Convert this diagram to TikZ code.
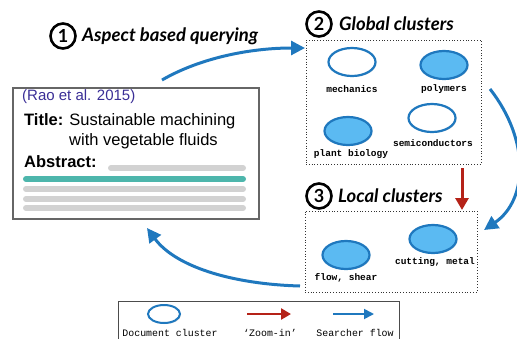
\documentclass[tikz,border=0pt]{standalone}
\usepackage{fontspec}
\setmainfont{Liberation Sans}
\setmonofont{Liberation Mono}
\newfontfamily\headfont{Lato}
\usetikzlibrary{arrows.meta,positioning,shapes.geometric,shadows}
\definecolor{flowblue}{HTML}{1F78BE}
\definecolor{clusterfill}{HTML}{5BBAF2}
\definecolor{zoomred}{HTML}{B52218}
\definecolor{refblue}{HTML}{3A2E96}
\definecolor{barteal}{HTML}{4DB6AC}
\definecolor{bargray}{HTML}{D2D2D2}

\begin{document}
\begin{tikzpicture}[x=1pt,y=-1pt]
        \tikzset{
            num/.style={circle, draw=black, line width=2.6pt, inner sep=0pt,
                minimum size=25pt, font=\headfont\bfseries\fontsize{18}{18}\selectfont},
            head/.style={anchor=west, inner sep=0pt,
                font=\headfont\bfseries\itshape\fontsize{18.5}{18.5}\selectfont},
            clus/.style={ellipse, draw=flowblue, line width=2.2pt, fill=white,
                minimum width=47pt, minimum height=28pt, inner sep=0pt,
                drop shadow={opacity=0.25, shadow xshift=1pt, shadow yshift=-1pt}},
            full/.style={clus, fill=clusterfill},
            lbl/.style={font=\ttfamily\bfseries\fontsize{9.5}{10}\selectfont, inner sep=1pt},
            legtext/.style={font=\ttfamily\fontsize{9.9}{10}\selectfont, inner sep=1pt},
            group/.style={draw=black!80, dotted, line width=0.8pt, inner sep=0pt},
            flow/.style={draw=flowblue, line width=3pt, -{Triangle[length=14pt,width=14pt]}},
            zoom/.style={draw=zoomred, line width=3pt, -{Triangle[length=12pt,width=13pt]}},
            bar/.style={line width=6pt, line cap=round},
            doctext/.style={anchor=west, inner sep=0pt, font=\fontsize{16.5}{17}\selectfont},
        }
        \useasboundingbox (0,0) rectangle (517,338);

        % step headings
        \node[num] (C1) at (63, 36) {1};
        \node[head] (H1) at (82, 36) {Aspect based querying};
        \node[num] (C2) at (319, 24) {2};
        \node[head] (H2) at (339, 24) {Global clusters};
        \node[num] (C3) at (319, 196) {3};
        \node[head] (H3) at (338, 196) {Local clusters};

        % document
        \node[draw=black!60, line width=2pt, minimum width=246pt,
            minimum height=131pt, inner sep=0pt] (doc) at (135.5, 153.5) {};
        \node[doctext, text=refblue, font=\fontsize{15}{15}\selectfont] (cite)
            at (22, 97) {(Rao et al. 2015)};
        \node[doctext] (title) at (24, 121) {\textbf{Title:} Sustainable machining};
        \node[doctext] (title2) at (69, 141) {with vegetable fluids};
        \node[doctext] (abs) at (24, 162) {\textbf{Abstract:}};
        \begin{scope}[bar]
            \draw[bargray] (111, 168) -- (243, 168);
            \draw[barteal] (26, 179) -- (243, 179);
            \draw[bargray] (26, 189) -- (243, 189);
            \draw[bargray] (26, 199) -- (243, 199);
            \draw[bargray] (26, 208) -- (243, 208);
        \end{scope}

        % global clusters
        \node[group, minimum width=175pt, minimum height=124pt] (glob) at (393.5, 102) {};
        \node[clus] (E1) at (352, 62) {};
        \node[lbl] (L1) at (352, 89) {mechanics};
        \node[full] (E2) at (444, 65) {};
        \node[lbl] (L2) at (444, 89) {polymers};
        \node[full] (E3) at (348, 131) {};
        \node[lbl] (L3) at (351, 154) {plant biology};
        \node[clus] (E4) at (432, 118) {};
        \node[lbl] (L4) at (433, 143) {semiconductors};

        % local clusters
        \node[group, minimum width=172pt, minimum height=81pt] (loc) at (391, 251.5) {};
        \node[full] (E5) at (346, 255) {};
        \node[lbl] (L5) at (346, 278) {flow, shear};
        \node[full] (E6) at (433, 239) {};
        \node[lbl] (L6) at (435, 262) {cutting, metal};

        % legend
        \node[draw=black!70, line width=0.8pt, minimum width=281pt,
            minimum height=49pt, inner sep=0pt] (leg) at (258.5, 325.5) {};
        \node[clus, minimum width=32pt, minimum height=18pt, line width=2pt] (LE) at (164, 314) {};
        \node[legtext] (LT1) at (170, 333) {Document cluster};
        \node[legtext] (LT2) at (270, 333) {‘Zoom-in’};
        \node[legtext] (LT3) at (355, 333) {Searcher flow};
        \coordinate (r1) at (247, 314);
        \coordinate (r2) at (291, 314);
        \coordinate (b1) at (333, 314);
        \coordinate (b2) at (374, 314);

        \coordinate (qs) at (162, 80);
        \coordinate (qe) at (305, 48);
        \coordinate (gs) at (490, 89);
        \coordinate (ge) at (484, 230);
        \coordinate (zs) at (462, 168);
        \coordinate (ze) at (462, 210);
        \coordinate (ls) at (300, 286);
        \coordinate (le) at (147, 228);

        \begin{scope}
            \draw[flow] (qs) .. controls (200, 58) and (250, 48) .. (qe);
            \draw[flow] (gs) .. controls (530, 140) and (528, 200) .. (ge);
            \draw[zoom] (zs) -- (ze);
            \draw[flow] (ls) .. controls (230, 284) and (175, 266) .. (le);
            \draw[zoom, line width=2.5pt, -{Triangle[length=10pt,width=11pt]}] (r1) -- (r2);
            \draw[flow, line width=1.8pt, -{Triangle[length=10pt,width=10pt]}] (b1) -- (b2);
        \end{scope}

\end{tikzpicture}
\end{document}
